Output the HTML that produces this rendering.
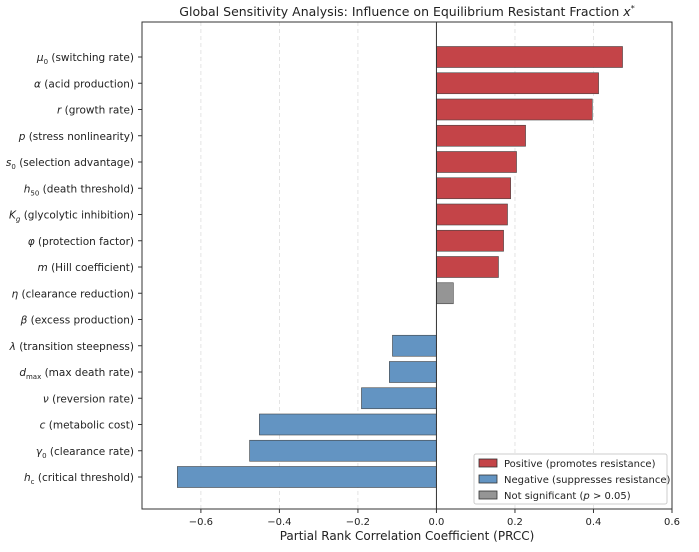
<!DOCTYPE html>
<html><head><meta charset="utf-8"><style>
body{margin:0;background:#fff;}
svg{font-family:"DejaVu Sans","Liberation Sans",sans-serif;}
</style></head><body>
<svg id="chart" width="699" height="547" viewBox="0 0 699 547">
<text x="407" y="16" text-anchor="middle" font-size="12.5" fill="#222">Global Sensitivity Analysis: Influence on Equilibrium Resistant Fraction <tspan font-style="italic">x</tspan><tspan font-size="8" dy="-5">*</tspan></text>
<g id="grid"></g><g id="bars"></g><g id="axes"></g>
<g>
<rect x="474" y="454" width="193" height="50" fill="#fff" stroke="#ccc" rx="2"/>
<rect x="479" y="459" width="18" height="8" fill="#c44448" stroke="#333" stroke-width="0.8"/>
<text x="504" y="467" font-size="10" fill="#222">Positive (promotes resistance)</text>
<rect x="479" y="475" width="18" height="8" fill="#6394c2" stroke="#333" stroke-width="0.8"/>
<text x="504" y="483" font-size="10" fill="#222">Negative (suppresses resistance)</text>
<rect x="479" y="491" width="18" height="8" fill="#959595" stroke="#333" stroke-width="0.8"/>
<text x="504" y="499" font-size="10" fill="#222">Not significant (<tspan font-style="italic">p</tspan> &gt; 0.05)</text>
</g>
<text x="407" y="540" text-anchor="middle" font-size="12" fill="#222">Partial Rank Correlation Coefficient (PRCC)</text>
</svg>
<script>
const labels=['<tspan font-style="italic">μ</tspan><tspan font-size="7" dy="3">0</tspan><tspan dy="-3"> (switching rate)</tspan>',
'<tspan font-style="italic">α</tspan> (acid production)',
'<tspan font-style="italic">r</tspan> (growth rate)',
'<tspan font-style="italic">p</tspan> (stress nonlinearity)',
'<tspan font-style="italic">s</tspan><tspan font-size="7" dy="3">0</tspan><tspan dy="-3"> (selection advantage)</tspan>',
'<tspan font-style="italic">h</tspan><tspan font-size="7" dy="3">50</tspan><tspan dy="-3"> (death threshold)</tspan>',
'<tspan font-style="italic">K</tspan><tspan font-size="7" dy="3" font-style="italic">g</tspan><tspan dy="-3"> (glycolytic inhibition)</tspan>',
'<tspan font-style="italic">φ</tspan> (protection factor)',
'<tspan font-style="italic">m</tspan> (Hill coefficient)',
'<tspan font-style="italic">η</tspan> (clearance reduction)',
'<tspan font-style="italic">β</tspan> (excess production)',
'<tspan font-style="italic">λ</tspan> (transition steepness)',
'<tspan font-style="italic">d</tspan><tspan font-size="7" dy="3">max</tspan><tspan dy="-3"> (max death rate)</tspan>',
'<tspan font-style="italic">ν</tspan> (reversion rate)',
'<tspan font-style="italic">c</tspan> (metabolic cost)',
'<tspan font-style="italic">γ</tspan><tspan font-size="7" dy="3">0</tspan><tspan dy="-3"> (clearance rate)</tspan>',
'<tspan font-style="italic">h</tspan><tspan font-size="7" dy="3">c</tspan><tspan dy="-3"> (critical threshold)</tspan>'];
const values=[0.474,0.413,0.397,0.227,0.204,0.189,0.181,0.171,0.158,0.043,0.0,-0.112,-0.120,-0.191,-0.451,-0.476,-0.660];
const significant=[1,1,1,1,1,1,1,1,1,0,1,1,1,1,1,1,1];
const xTicks=[-0.6,-0.4,-0.2,0.0,0.2,0.4,0.6];
const NS='http://www.w3.org/2000/svg';
const L=142,R=672,T=22,B=509,xmin=-0.75,xmax=0.6;
const X=v=>L+(v-xmin)/(xmax-xmin)*(R-L);
const rowStep=26.25,firstY=57;
const Y=i=>firstY+i*rowStep;
function mk(tag,attrs,parent){const e=document.createElementNS(NS,tag);for(const k in attrs)e.setAttribute(k,attrs[k]);parent.appendChild(e);return e;}
const grid=document.getElementById('grid'),bars=document.getElementById('bars'),axes=document.getElementById('axes');
xTicks.forEach(t=>{
  const g=mk('line',{x1:X(t),x2:X(t),y1:T,y2:B,stroke:'#ddd','stroke-dasharray':'4,3','stroke-width':0.8},grid);
  
  
  mk('line',{x1:X(t),x2:X(t),y1:B,y2:B+4,stroke:'#333'},axes);
  const tx=mk('text',{x:X(t),y:B+16,'text-anchor':'middle','font-size':10,fill:'#222'},axes);
  tx.textContent=(t<0?'\u2212':'')+Math.abs(t).toFixed(1);
  
  
});
const bh=21;
values.forEach((v,i)=>{
  const col=!significant[i]?'#959595':(v>=0?'#c44448':'#6394c2');
  const x0=Math.min(X(0),X(v)),w=Math.abs(X(v)-X(0));
  const r=mk('rect',{x:x0,y:Y(i)-bh/2,width:w,height:bh,fill:col,stroke:'#444','stroke-width':w>0.5?0.6:0},bars);
  
  
  mk('line',{x1:L-4,x2:L,y1:Y(i),y2:Y(i),stroke:'#333'},axes);
  const t=mk('text',{x:L-8,y:Y(i)+4,'text-anchor':'end','font-size':10.5,fill:'#222'},axes);
  t.innerHTML=labels[i];
  
  
});
mk('line',{x1:X(0),x2:X(0),y1:T,y2:B,stroke:'#333','stroke-width':1},axes);
const fr=mk('rect',{x:L,y:T,width:R-L,height:B-T,fill:'none',stroke:'#333','stroke-width':1},axes);


</script>
</body></html>
